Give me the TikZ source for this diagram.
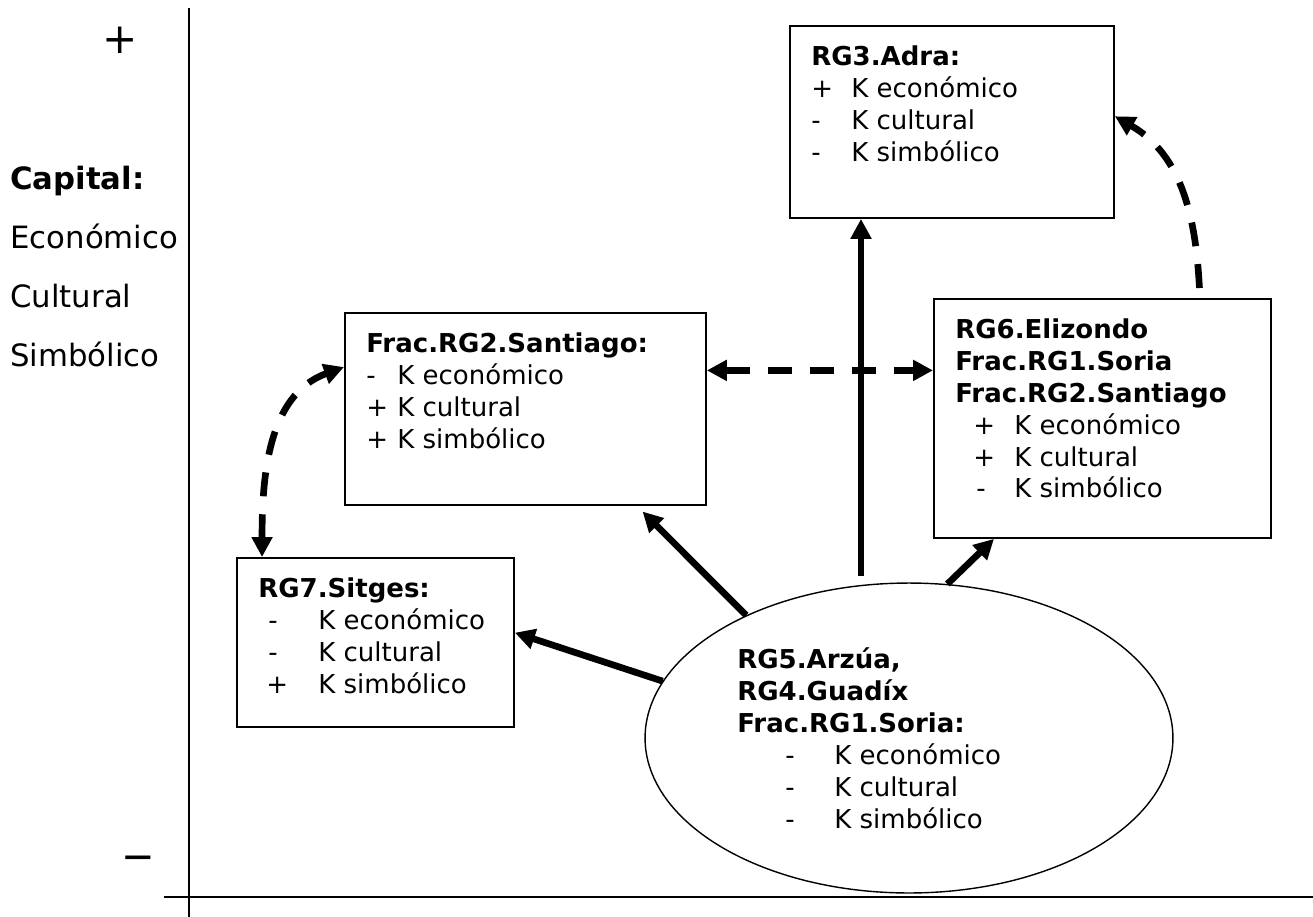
\documentclass[tikz,border=0pt]{standalone}
\usepackage{fontspec}
\setmainfont{DejaVu Sans}
\usetikzlibrary{arrows.meta,shapes.geometric}

% sign column: total width, indent of the sign, sign
\newcommand{\sg}[3]{\makebox[#1][l]{\hspace*{#2}#3}}

\tikzset{
  >={Triangle[length=0.4cm,width=0.4cm]},
  box/.style={draw, line width=1.1pt, inner sep=0pt, anchor=north west},
  boxtext/.style={anchor=north west, inner sep=0pt, align=left, font=\fontsize{14.8}{18.2}\selectfont},
  axislabel/.style={anchor=base west, inner sep=0pt, font=\fontsize{17.5}{21}\selectfont},
  solidarrow/.style={line width=3.8pt, ->},
  dasharrow/.style={line width=3.8pt, dash pattern=on 0.48cm off 0.36cm},
}

\begin{document}
\begin{tikzpicture}[x=0.02cm, y=-0.02cm]
    \useasboundingbox (0,0) rectangle (1313,917);

    % axes
    \draw[line width=1.3pt] (189,8) -- (189,917);
    \draw[line width=1.3pt] (164,897) -- (1313,897);
    \node[inner sep=0pt, font=\fontsize{24}{24}\selectfont] (plus) at (120,40) {+};
    \node[inner sep=0pt, font=\bfseries\fontsize{16}{16}\selectfont] (minus) at (138,861) {—};
    \node[axislabel] (capital) at (10,189) {\textbf{Capital:}};
    \node[axislabel] (econ) at (10,248) {Económico};
    \node[axislabel] (cult) at (10,307) {Cultural};
    \node[axislabel] (simb) at (10,366) {Simbólico};

    % boxes
    \node[box, minimum width=6.48cm, minimum height=3.84cm] (adra) at (789,25) {};
    \node[box, minimum width=7.22cm, minimum height=3.84cm] (santiago) at (344,312) {};
    \node[box, minimum width=6.74cm, minimum height=4.78cm] (eliz) at (933,298) {};
    \node[box, minimum width=5.54cm, minimum height=3.38cm] (sitges) at (236,557) {};
    \node[ellipse, draw, line width=0.8pt, inner sep=0pt, minimum width=10.56cm, minimum height=6.2cm] (arzua) at (909,738) {};

    \node[boxtext] (adratxt) at ([shift={(22,20)}]adra.north west) {\textbf{RG3.Adra:}\\
        \sg{0.8cm}{0cm}{+}K económico\\
        \sg{0.8cm}{0cm}{-}K cultural\\
        \sg{0.8cm}{0cm}{-}K simbólico};
    \node[boxtext] (santiagotxt) at ([shift={(22,20)}]santiago.north west) {\textbf{Frac.RG2.Santiago:}\\
        \sg{0.62cm}{0cm}{-}K económico\\
        \sg{0.62cm}{0cm}{+}K cultural\\
        \sg{0.62cm}{0cm}{+}K simbólico};
    \node[boxtext] (eliztxt) at ([shift={(22,20)}]eliz.north west) {\textbf{RG6.Elizondo}\\
        \textbf{Frac.RG1.Soria}\\
        \textbf{Frac.RG2.Santiago}\\
        \sg{1.18cm}{0.36cm}{+}K económico\\
        \sg{1.18cm}{0.36cm}{+}K cultural\\
        \sg{1.18cm}{0.42cm}{-}K simbólico};
    \node[boxtext] (sitgestxt) at ([shift={(22,20)}]sitges.north west) {\textbf{RG7.Sitges:}\\
        \sg{1.2cm}{0.2cm}{-}K económico\\
        \sg{1.2cm}{0.2cm}{-}K cultural\\
        \sg{1.2cm}{0.16cm}{+}K simbólico};
    \node[boxtext] (arzuatxt) at ([shift={(-172,-91)}]arzua.center) {\textbf{RG5.Arzúa,}\\
        \textbf{RG4.Guadíx}\\
        \textbf{Frac.RG1.Soria:}\\
        \sg{1.94cm}{0.96cm}{-}K económico\\
        \sg{1.94cm}{0.96cm}{-}K cultural\\
        \sg{1.94cm}{0.96cm}{-}K simbólico};

    % solid arrows out of the ellipse
    \coordinate (vstart) at (861,576);
    \draw[solidarrow] (arzua.167.5) -- (sitges.4);
    \draw[solidarrow, shorten >=0.16cm] (arzua.143) -- (santiago.-41.5);
    \draw[solidarrow] (vstart) -- (vstart |- adra.south);
    \draw[solidarrow] (arzua.76.4) -- (eliz.-132.5);

    % dashed arrows
    \draw[dasharrow, <->] (santiago.12.5) -- (santiago.12.5 -| eliz.west);
    \draw[dasharrow, ->, shorten <=0.2cm] (eliz.51.4) to[out=93, in=-30] (adra.2);
    \draw[dasharrow, <->] (sitges.143.1) to[out=90, in=200] (santiago.167.2);
\end{tikzpicture}
\end{document}
